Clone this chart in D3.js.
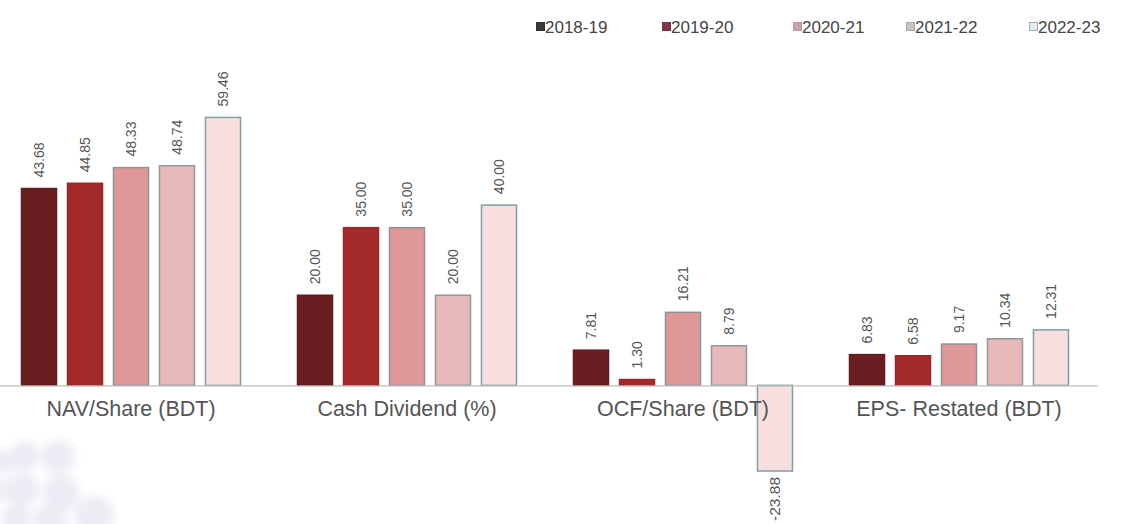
<!DOCTYPE html>
<html>
<head>
<meta charset="utf-8">
<script src="https://cdn.jsdelivr.net/npm/d3@7/dist/d3.min.js"></script>
<style>
  html, body { margin: 0; padding: 0; background: #fff; }
  svg { display: block; font-family: "Liberation Sans", Arial, sans-serif; }
</style>
</head>
<body>
<svg id="chart" width="1123" height="524"></svg>
<script>
// ---- data ----
const categories = ["NAV/Share (BDT)", "Cash Dividend (%)", "OCF/Share (BDT)", "EPS- Restated (BDT)"];
const seriesNames = ["2018-19", "2019-20", "2020-21", "2021-22", "2022-23"];
const values2018_19 = [43.68, 20.00, 7.81, 6.83];
const values2019_20 = [44.85, 35.00, 1.30, 6.58];
const values2020_21 = [48.33, 35.00, 16.21, 9.17];
const values2021_22 = [48.74, 20.00, 8.79, 10.34];
const values2022_23 = [59.46, 40.00, -23.88, 12.31];
const seriesValues = [values2018_19, values2019_20, values2020_21, values2021_22, values2022_23];
const yDomain = [-19, 60];

// ---- styles ----
const barFill   = ["#6a1e21", "#a4292b", "#e09797", "#e8b9b9", "#f9dfe0"];
const barStroke = ["#5e1c1e", "#98292a", "#8c9596", "#8f9a9b", "#7d9ea3"];
const legFill   = ["#3a3a3a", "#83364a", "#c9a2aa", "#c9c3c3", "#e4ecee"];
const legStroke = ["#333333", "#7a3044", "#b99aa2", "#a9a9a9", "#8fb0b4"];

const svg = d3.select("#chart");

// background decoration (faint blurred circles, bottom-left)
const defs = svg.append("defs");
defs.append("filter").attr("id", "blur")
  .attr("x", "-50%").attr("y", "-50%").attr("width", "200%").attr("height", "200%")
  .append("feGaussianBlur").attr("stdDeviation", 4);
const deco = svg.append("g").attr("filter", "url(#blur)").attr("fill", "#ececf4");
[[2,462,12],[25,456,15],[58,457,17],[22,490,17],[61,493,18],[16,519,15],[50,521,17],[94,516,20],[-2,490,11]]
  .forEach(([cx, cy, r]) => deco.append("circle").attr("cx", cx).attr("cy", cy).attr("r", r));

// scales
const x0 = d3.scaleBand().domain(categories).range([-7, 1097]).paddingInner(0).paddingOuter(0);
const x1 = d3.scaleBand().domain(seriesNames).range([0, x0.bandwidth()]).paddingInner(0.217).paddingOuter(0.609);
const y = d3.scaleLinear().domain(yDomain).range([471, 115]).clamp(true);

// bars
const groups = svg.append("g").selectAll("g")
  .data(categories).join("g")
  .attr("transform", d => `translate(${x0(d)},0)`);

const cells = groups.selectAll("g.cell")
  .data((c, ci) => seriesNames.map((s, si) => ({ s, si, v: seriesValues[si][ci] })))
  .join("g").attr("class", "cell");

cells.append("rect")
  .attr("x", d => x1(d.s) + 0.5)
  .attr("width", x1.bandwidth() - 1)
  .attr("y", d => Math.min(y(d.v), y(0)))
  .attr("height", d => Math.abs(y(d.v) - y(0)))
  .attr("fill", d => barFill[d.si])
  .attr("stroke", d => barStroke[d.si])
  .attr("stroke-width", 1.5);

// value labels (rotated)
cells.append("text")
  .attr("transform", d => {
    const cx = x1(d.s) + x1.bandwidth() / 2;
    const yy = d.v >= 0 ? y(d.v) - 11 : y(d.v) + 6;
    return `translate(${cx},${yy}) rotate(-90)`;
  })
  .attr("text-anchor", d => d.v >= 0 ? "start" : "end")
  .attr("dominant-baseline", "central")
  .attr("font-size", d => d.v >= 0 ? 14 : 15.5)
  .attr("fill", "#555")
  .text(d => d.v.toFixed(2));

// axis
const axis = svg.append("g")
  .attr("transform", `translate(0,${y(0)})`)
  .call(d3.axisBottom(x0).tickSize(0).tickPadding(15));
axis.select(".domain").attr("stroke", "#bdbdbd").attr("stroke-width", 1.2);
axis.selectAll(".tick text")
  .attr("font-size", 21.5)
  .attr("fill", "#555")
  .attr("font-family", "'Liberation Sans', Arial, sans-serif");

// legend
const legendX = [536, 662, 793, 906, 1029];
const legend = svg.append("g").selectAll("g")
  .data(seriesNames).join("g")
  .attr("transform", (d, i) => `translate(${legendX[i]},27)`);
legend.append("rect")
  .attr("x", 0.5).attr("y", -4.5).attr("width", 8).attr("height", 8)
  .attr("fill", (d, i) => legFill[i])
  .attr("stroke", (d, i) => legStroke[i]);
legend.append("text")
  .attr("x", 9).attr("y", 0.5)
  .attr("dominant-baseline", "central")
  .attr("font-size", 17)
  .attr("fill", "#444")
  .text(d => d);
</script>
</body>
</html>
